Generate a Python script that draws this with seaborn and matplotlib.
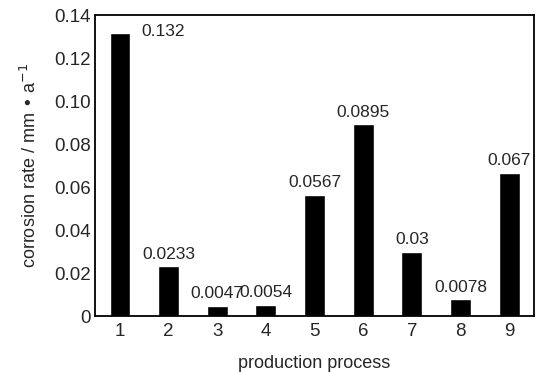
import matplotlib
matplotlib.use("Agg")
import matplotlib.pyplot as plt
import seaborn as sns
import pandas as pd

# Datos
processes = ["1", "2", "3", "4", "5", "6", "7", "8", "9"]
rates = [0.132, 0.0233, 0.0047, 0.0054, 0.0567, 0.0895, 0.03, 0.0078, 0.067]
labels = ["0.132", "0.0233", "0.0047", "0.0054", "0.0567", "0.0895", "0.03", "0.0078", "0.067"]

df = pd.DataFrame({"process": processes, "rate": rates})

sns.set_style("white")
plt.rcParams["font.family"] = ["Liberation Sans", "DejaVu Sans"]

fig = plt.figure(figsize=(5.41, 3.72), dpi=100)
ax = fig.add_axes([0.176, 0.15, 0.811, 0.81])

sns.barplot(data=df, x="process", y="rate", color="black", width=0.43,
            saturation=1, ax=ax)

# Etiquetas de valores
for i, (v, lab) in enumerate(zip(rates, labels)):
    if i == 0:
        ax.text(i + 0.43, v + 0.0008, lab, ha="left", va="center", fontsize=12.5)
    else:
        ax.text(i, v + 0.0022, lab, ha="center", va="bottom", fontsize=12.5)

ax.set_xlim(-0.51, 8.51)
ax.set_ylim(0, 0.1405)
ax.set_yticks([0, 0.02, 0.04, 0.06, 0.08, 0.10, 0.12, 0.14])
ax.set_yticklabels(["0", "0.02", "0.04", "0.06", "0.08", "0.10", "0.12", "0.14"])
ax.tick_params(axis="y", direction="in", length=3, width=1, labelsize=13.5, pad=3)
ax.tick_params(axis="x", length=0, labelsize=13.5, pad=5)

for s in ax.spines.values():
    s.set_linewidth(1.3)
    s.set_color("black")

ax.set_xlabel("production process", fontsize=13, labelpad=11)
ax.set_ylabel(r"corrosion rate / mm • a$^{-1}$", fontsize=13, labelpad=10)

fig.savefig("out.png", dpi=100)
